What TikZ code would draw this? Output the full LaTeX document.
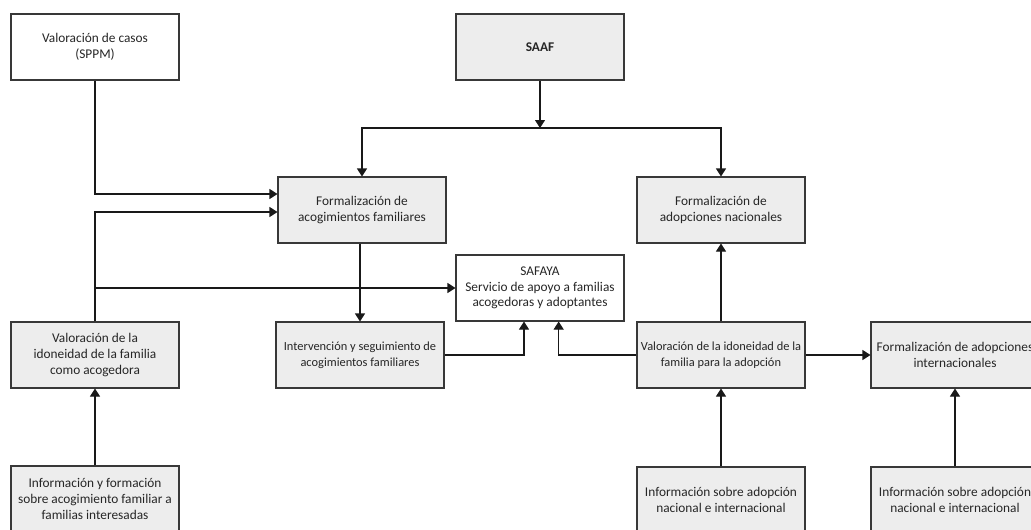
\documentclass[tikz,border=0pt]{standalone}
\usepackage{fontspec}
\setmainfont{Carlito}
\usepackage{tikz}
\usetikzlibrary{arrows.meta, positioning, calc}
\definecolor{boxgray}{rgb}{0.93,0.93,0.93}
\definecolor{linegray}{rgb}{0.22,0.22,0.22}

\begin{document}
\begin{tikzpicture}[x=0.75pt, y=-0.75pt,
  caja/.style={draw=linegray, line width=0.8pt, fill=boxgray, minimum width=126pt,
    minimum height=49.5pt, align=center, inner xsep=1pt, text=black!85,
    font=\fontsize{10}{11.8}\selectfont},
  cajab/.style={caja, fill=white},
  flecha/.style={line width=0.8pt, draw=black!90, -{Triangle[length=6pt,width=7.5pt]}}]
\clip (0,0) rectangle (1031,529);
\fill[white] (0,0) rectangle (1031,529);
\node[cajab] (sppm) at (95,47) {Valoración de casos\\(SPPM)};
\node[caja] (saaf) at (540,47) {\textbf{SAAF}};
\node[caja] (fa) at (362,210) {Formalización de\\acogimientos familiares};
\node[caja] (fan) at (721,210) {Formalización de\\adopciones nacionales};
\node[cajab] (sf) at (540,288) {SAFAYA\\Servicio de apoyo a familias\\acogedoras y adoptantes};
\node[caja] (va) at (95,355) {Valoración de la\\idoneidad de la familia\\como acogedora};
\node[caja, font=\fontsize{9.3}{11.8}\selectfont] (iv) at (360,355) {Intervención y seguimiento de\\acogimientos familiares};
\node[caja, font=\fontsize{9.3}{11.8}\selectfont] (vad) at (721,355) {Valoración de la idoneidad de la\\familia para la adopción};
\node[caja] (fai) at (955,355) {Formalización de adopciones\\internacionales};
\node[caja] (ia) at (95,499) {Información y formación\\sobre acogimiento familiar a\\familias interesadas};
\node[caja] (iad) at (721,500) {Información sobre adopción\\nacional e internacional};
\node[caja] (iai) at (955,500) {Información sobre adopción\\nacional e internacional};
\coordinate (rep) at (540,128);
\draw[flecha] (saaf) -- (rep);
\draw[flecha] (rep) -| (fa);
\draw[flecha] (rep) -| (fan);
\draw[flecha] (sppm) |- ([yshift=12pt]fa.west);
\draw[flecha] (va) |- ([yshift=-1.5pt]fa.west);
\draw[flecha] (va.north) |- (sf.west);
\draw[flecha] (fa.south -| iv.north) -- (iv.north);
\draw[flecha] (iv.east) -| ([xshift=-12pt]sf.south);
\draw[flecha] (vad.west) -| ([xshift=14pt]sf.south);
\draw[flecha] (vad) -- (fan);
\draw[flecha] (vad) -- (fai);
\draw[flecha] (ia) -- (va);
\draw[flecha] (iad) -- (vad);
\draw[flecha] (iai) -- (fai);
\end{tikzpicture}
\end{document}
